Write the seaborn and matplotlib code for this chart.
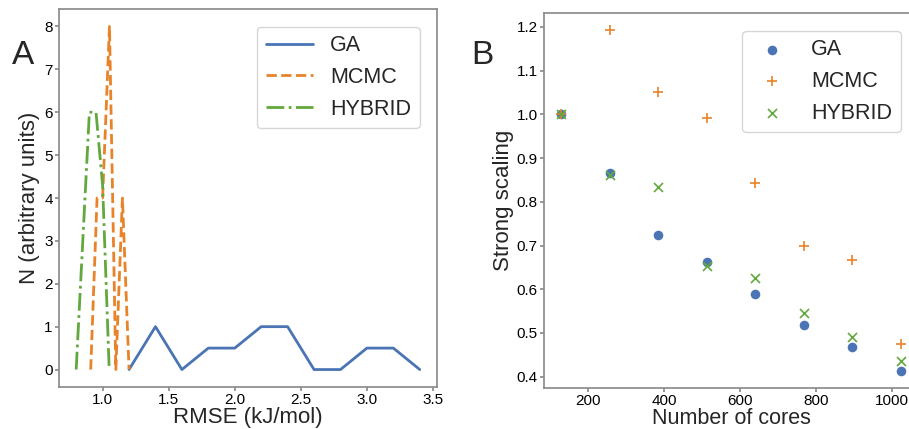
import numpy as np
import pandas as pd
import seaborn as sns
import matplotlib.pyplot as plt

### Data

# Panel A: RMSE distributions
ga_rmse = [1.2, 1.4, 1.6, 1.8, 2.0, 2.2, 2.4, 2.6, 2.8, 3.0, 3.2, 3.4]
ga_n = [0, 1, 0, 0.5, 0.5, 1, 1, 0, 0, 0.5, 0.5, 0]

mcmc_rmse = [0.91, 0.958, 1.0, 1.052, 1.1, 1.15, 1.2]
mcmc_n = [0, 4, 4, 8, 0, 4, 0]

hybrid_rmse = [0.8, 0.9, 0.95, 1.0, 1.05]
hybrid_n = [0, 6, 6, 4.3, 0]

# Panel B: strong scaling
cores = [128, 256, 384, 512, 640, 768, 896, 1024]
ga_scaling = [1.0, 0.865, 0.723, 0.662, 0.588, 0.518, 0.468, 0.414]
mcmc_scaling = [1.0, 1.192, 1.052, 0.992, 0.844, 0.700, 0.668, 0.475]
hybrid_scaling = [1.0, 0.862, 0.833, 0.654, 0.626, 0.546, 0.491, 0.437]

blue, orange, green = '#4a74b4', '#e8832a', '#62a83c'

### Style
sns.set_theme(style='ticks')
plt.rcParams['font.family'] = ['Liberation Sans', 'DejaVu Sans']
plt.rcParams['axes.edgecolor'] = '0.55'
plt.rcParams['xtick.color'] = '0.55'
plt.rcParams['ytick.color'] = '0.55'
plt.rcParams['xtick.labelcolor'] = 'black'
plt.rcParams['ytick.labelcolor'] = 'black'
plt.rcParams['xtick.major.size'] = 3
plt.rcParams['ytick.major.size'] = 3
plt.rcParams['xtick.major.pad'] = 1.5
plt.rcParams['ytick.major.pad'] = 1.5

fig = plt.figure(figsize=(9.09, 4.29), dpi=100)

### Panel A
ax1 = fig.add_axes([0.0649, 0.0986, 0.4158, 0.8797])
sns.lineplot(x=ga_rmse, y=ga_n, ax=ax1, color=blue, lw=2, label='GA')
sns.lineplot(x=mcmc_rmse, y=mcmc_n, ax=ax1, color=orange, lw=2, linestyle='--', label='MCMC')
sns.lineplot(x=hybrid_rmse, y=hybrid_n, ax=ax1, color=green, lw=2, linestyle='-.', label='HYBRID')
ax1.set_xticks([1.0, 1.5, 2.0, 2.5, 3.0, 3.5])
ax1.set_yticks(range(0, 9))
ax1.tick_params(labelsize=11)
ax1.set_xlabel('RMSE (kJ/mol)', fontsize=16, labelpad=0)
ax1.set_ylabel('N (arbitrary units)', fontsize=16, labelpad=3)
ax1.legend(loc='upper right', fontsize=15.5, handlelength=2.2, borderaxespad=0.8)
fig.text(0.013, 0.85, 'A', fontsize=24)

### Panel B
ax2 = fig.add_axes([0.5985, 0.0965, 0.4114, 0.8724])
sns.scatterplot(x=cores, y=ga_scaling, ax=ax2, color=blue, marker='o', s=48, linewidth=0, label='GA')
sns.scatterplot(x=cores, y=mcmc_scaling, ax=ax2, color=orange, marker='+', s=48, linewidth=1.2, label='MCMC')
sns.scatterplot(x=cores, y=hybrid_scaling, ax=ax2, color=green, marker='x', s=42, linewidth=1.2, label='HYBRID')
ax2.set_xticks([200, 400, 600, 800, 1000])
ax2.set_yticks([0.4, 0.5, 0.6, 0.7, 0.8, 0.9, 1.0, 1.1, 1.2])
ax2.tick_params(labelsize=11)
ax2.set_xlabel('Number of cores', fontsize=15.5, labelpad=0)
ax2.set_ylabel('Strong scaling', fontsize=16, labelpad=2)
ax2.legend(loc='upper right', fontsize=15.5, borderaxespad=0.8)
fig.text(0.518, 0.85, 'B', fontsize=24)

plt.savefig('out.png', dpi=100)
plt.close()
